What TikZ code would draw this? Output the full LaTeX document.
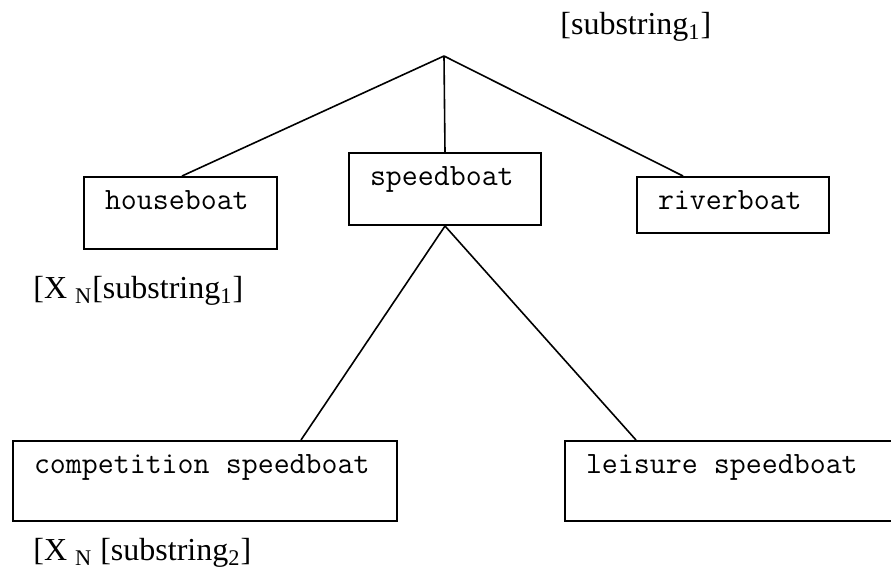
\documentclass[tikz,border=0pt]{standalone}
\usepackage{fontspec}
\setmainfont{Liberation Serif}
\newcommand\tgap{\hspace{0.525em}}

\tikzset{
  boat/.style 2 args={draw,line width=1pt,anchor=north west,inner xsep=10.5pt,
    inner ysep=0pt,align=left,text width=#1,text height=16pt,text depth=#2,
    font=\ttfamily\fontsize{15.5}{17}\selectfont},
  branch/.style={line width=0.8pt},
  tag/.style={anchor=base west,inner sep=0pt,font=\fontsize{16}{18}\selectfont}
}

\begin{document}
\begin{tikzpicture}[x=0.5pt,y=-0.5pt]
\useasboundingbox (0,0) rectangle (891,569);
\coordinate (top) at (444,56);
\node[boat={75.5pt}{20pt}] (hb) at (83,176) {houseboat};
\node[boat={75pt}{20pt}] (sb) at (348,152) {speedboat};
\node[boat={75pt}{12pt}] (rb) at (636,176) {riverboat};
\node[boat={171pt}{24pt}] (cs) at (12,440) {competition\tgap speedboat};
\node[boat={144pt}{24pt}] (ls) at (564,440) {leisure\tgap speedboat};
\draw[branch] (top) -- ([xshift=49.5pt]hb.north west);
\draw[branch] (top) -- (sb.north);
\draw[branch] (top) -- ([xshift=23.5pt]rb.north west);
\draw[branch] (sb.south) -- ([xshift=144.5pt]cs.north west);
\draw[branch] (sb.south) -- ([xshift=36pt]ls.north west);
\node[tag] (s1) at (560,34) {[substring\textsubscript{1}]};
\node[tag] (x1) at (33,298) {[X \textsubscript{N}[substring\textsubscript{1}]};
\node[tag] (x2) at (33,560) {[X \textsubscript{N} [substring\textsubscript{2}]};
\end{tikzpicture}
\end{document}
